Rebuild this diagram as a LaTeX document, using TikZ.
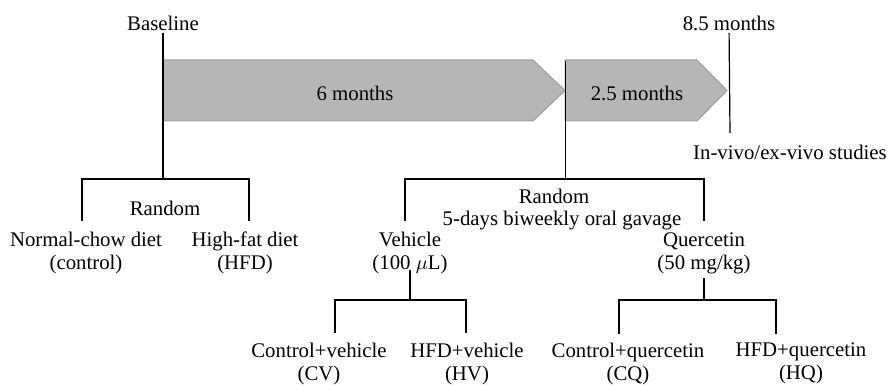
\documentclass[tikz,border=0pt]{standalone}
\usepackage{fontspec}
\setmainfont{Liberation Serif}
\begin{document}
\begin{tikzpicture}[x=0.5pt,y=-0.5pt,line width=0.6pt,
	lbl/.style={align=center,inner sep=1pt,font=\fontsize{10.4}{11.5}\selectfont},
	phase/.style={fill=gray!57,draw=gray!75,line width=0.5pt}]
\useasboundingbox (0,0) rectangle (891,385);
% time line
\draw [phase] (163,60) -- (533,60) -- (565,90.5) -- (533,121) -- (163,121) -- cycle;
\draw [phase] (565,60) -- (697,60) -- (727,90.5) -- (697,121) -- (565,121) -- cycle;
\node [lbl] (six) at (355,93) {6 months};
\node [lbl] (twofive) at (637,93) {2.5 months};
\node [lbl] (base) at (163,23) {Baseline};
\node [lbl] (endp) at (729,23) {8.5 months};
\node [lbl] (study) at (790,152) {In-vivo/ex-vivo studies};
\coordinate (stop) at (730,133);
\draw (endp) -- (stop);
% diet groups
\node [lbl] (randA) at (165,208) {Random};
\node [lbl] (normal) at (86,253) {Normal-chow diet\\(control)};
\node [lbl] (hfd) at (245,253) {High-fat diet\\(HFD)};
\coordinate (sA) at (163,179);
\coordinate (lA) at (82,221);
\coordinate (rA) at (249,221);
\draw (base) -- (sA);
\draw (lA) |- (sA) -| (rA);
% treatment groups
\node [lbl] (randB) at (554,196) {Random};
\node [lbl] (gavage) at (562,221) {5-days biweekly oral gavage};
\node [lbl] (veh) at (410,253) {Vehicle\\(100 $\mu$L)};
\node [lbl] (quer) at (704,253) {Quercetin\\(50 mg/kg)};
\coordinate (tB) at (565.5,61);
\coordinate (sB) at (565.5,179);
\coordinate (lB) at (405,221);
\coordinate (rB) at (704,221);
\draw (tB) -- (sB);
\draw (lB) |- (sB) -| (rB);
% final groups
\node [lbl] (cv) at (319,363.5) {Control+vehicle\\(CV)};
\node [lbl] (hv) at (467,363.5) {HFD+vehicle\\(HV)};
\node [lbl] (cq) at (628,363.5) {Control+quercetin\\(CQ)};
\node [lbl] (hq) at (801,363.5) {HFD+quercetin\\(HQ)};
\coordinate (vtop) at (410,270);
\coordinate (sV) at (410,300);
\coordinate (lV) at (335,333);
\coordinate (rV) at (466,333);
\draw (vtop) -- (sV);
\draw (lV) |- (sV) -| (rV);
\coordinate (qtop) at (704,278);
\coordinate (sQ) at (704,300);
\coordinate (lQ) at (619,334);
\coordinate (rQ) at (776,334);
\draw (qtop) -- (sQ);
\draw (lQ) |- (sQ) -| (rQ);
\end{tikzpicture}
\end{document}
